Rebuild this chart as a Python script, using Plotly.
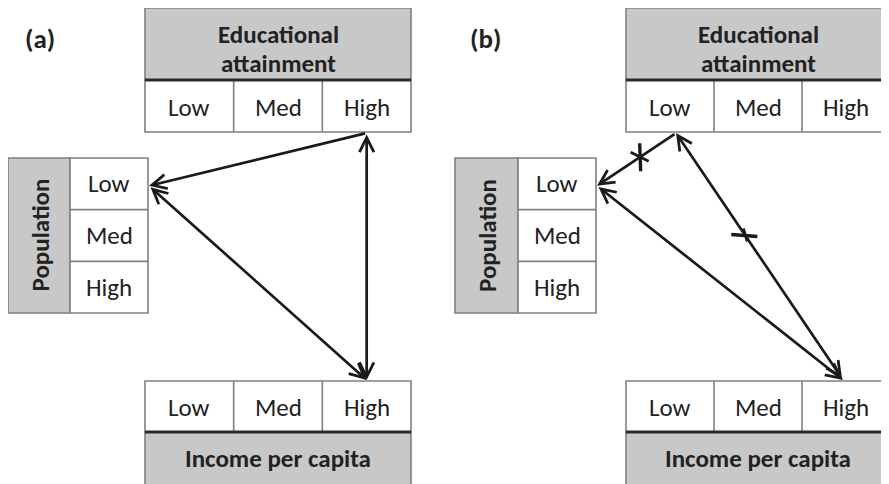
import plotly.graph_objects as go

# ---- data ----
levels = ["Low", "Med", "High"]
panel_labels = ["(a)", "(b)"]
edu_title = ["Educational", "attainment"]
pop_title = "Population"
inc_title = "Income per capita"
# links: (from_box, from_level, to_box, to_level, arrow sides, crossed)
links_a = [("edu", "High", "pop", "Low", "end", False),
           ("edu", "High", "inc", "High", "end+start", False),
           ("pop", "Low", "inc", "High", "end+start", False)]
links_b = [("edu", "Low", "pop", "Low", "end", True),
           ("inc", "High", "edu", "Low", "end+start", True),
           ("pop", "Low", "inc", "High", "end+start", False)]

# ---- style ----
FONT = "Carlito, Calibri, Lato, sans-serif"
GRAY = "#c8c8c8"
BORDER = "#808080"
DARK = "#2b2b2b"
TXT = "#222222"
FS = 25

W, H = 889, 484
OFF = 8  # page body margin
fig = go.Figure()
shapes = []
annots = []

def rect(x0, y0, x1, y1, fill="white", lc=BORDER, lw=1.6):
    shapes.append(dict(type="rect", xref="x", yref="y", x0=x0, y0=y0, x1=x1, y1=y1,
                       fillcolor=fill, line=dict(color=lc, width=lw), layer="below"))

def line(x0, y0, x1, y1, lc=BORDER, lw=1.6):
    shapes.append(dict(type="line", xref="x", yref="y", x0=x0, y0=y0, x1=x1, y1=y1,
                       line=dict(color=lc, width=lw)))

def text(x, y, s, bold=False, size=FS, angle=0):
    annots.append(dict(x=x, y=y, xref="x", yref="y", text=(f"<b>{s}</b>" if bold else s),
                       showarrow=False, textangle=angle,
                       font=dict(family=FONT, size=size, color=TXT),
                       xanchor="center", yanchor="middle"))

def panel(label, lab_xy, top_x0, box_w, pop_x0, pop_gray_w, pop_w, links, cross_specs):
    text(lab_xy[0], lab_xy[1], label, bold=True, size=27)
    # --- education (top) box ---
    ty0, tyh, ty1 = 8, 80, 132
    rect(top_x0, ty0, top_x0 + box_w, tyh, fill=GRAY)
    rect(top_x0, tyh, top_x0 + box_w, ty1)
    cw = box_w / 3
    for i in (1, 2):
        line(top_x0 + i * cw, tyh, top_x0 + i * cw, ty1)
    line(top_x0, tyh, top_x0 + box_w, tyh, lc=DARK, lw=3)
    text(top_x0 + box_w / 2, 34, edu_title[0], bold=True)
    text(top_x0 + box_w / 2, 63, edu_title[1], bold=True)
    for i, lv in enumerate(levels):
        text(top_x0 + (i + 0.5) * cw, (tyh + ty1) / 2 + 1, lv)
    # --- population (left) box ---
    py0, py1 = 158, 313
    rect(pop_x0, py0, pop_x0 + pop_gray_w, py1, fill=GRAY)
    rect(pop_x0 + pop_gray_w, py0, pop_x0 + pop_w, py1)
    ch = (py1 - py0) / 3
    for i in (1, 2):
        line(pop_x0 + pop_gray_w, py0 + i * ch, pop_x0 + pop_w, py0 + i * ch)
    text(pop_x0 + pop_gray_w / 2 + 1, (py0 + py1) / 2, pop_title, bold=True, angle=-90)
    for i, lv in enumerate(levels):
        text(pop_x0 + pop_gray_w + (pop_w - pop_gray_w) / 2, py0 + (i + 0.5) * ch, lv)
    # --- income (bottom) box ---
    by0, byh, by1 = 381, 432, 496
    rect(top_x0, by0, top_x0 + box_w, byh)
    rect(top_x0, byh, top_x0 + box_w, by1, fill=GRAY)
    for i in (1, 2):
        line(top_x0 + i * cw, by0, top_x0 + i * cw, byh)
    line(top_x0, byh, top_x0 + box_w, byh, lc=DARK, lw=3)
    for i, lv in enumerate(levels):
        text(top_x0 + (i + 0.5) * cw, (by0 + byh) / 2 + 1, lv)
    text(top_x0 + box_w / 2, 458, inc_title, bold=True)

    def anchor(box, lv, nudge):
        i = levels.index(lv)
        if box == "edu":
            return (top_x0 + (i + 0.5) * cw + nudge, ty1 + 1)
        if box == "inc":
            return (top_x0 + (i + 0.5) * cw + nudge, by0 - 1)
        return (pop_x0 + pop_w + 1, py0 + (i + 0.5) * ch + 2)

    nud = cross_specs.get("nudge", {})
    for k, (fb, fl, tb, tl, side, crossed) in enumerate(links):
        x0, y0 = anchor(fb, fl, nud.get(fb, 0))
        x1, y1 = anchor(tb, tl, nud.get(tb, 0))
        annots.append(dict(x=x1, y=y1, ax=x0, ay=y0, xref="x", yref="y", axref="x", ayref="y",
                           text="", showarrow=True, arrowhead=5, startarrowhead=5,
                           arrowside=side, arrowsize=1.05, startarrowsize=1.05,
                           arrowwidth=2.7, arrowcolor="#1a1a1a", standoff=0, startstandoff=0))
        if crossed:
            t = cross_specs["t"][k]
            cx, cy = x0 + (x1 - x0) * t, y0 + (y1 - y0) * t
            if abs(x1 - x0) > abs(y1 - y0):
                line(cx, cy - 14, cx + 1, cy + 14, lc="#1a1a1a", lw=3.4)
                line(cx - 9, cy - 5, cx + 9, cy + 4, lc="#1a1a1a", lw=2.8)
            else:
                line(cx - 14, cy - 1, cx + 12, cy + 1, lc="#1a1a1a", lw=3.4)
                line(cx - 2, cy - 7, cx + 2, cy + 6, lc="#1a1a1a", lw=2.8)

panel(panel_labels[0], (40, 38), 145, 266, 8, 62, 140, links_a, {})
panel(panel_labels[1], (485, 38), 626, 264, 455, 63, 141, links_b,
      {"t": {0: 0.46, 1: 0.585}, "nudge": {"edu": 6, "inc": -3}})

fig.update_layout(
    width=W, height=H,
    margin=dict(l=0, r=0, t=0, b=0),
    paper_bgcolor="white", plot_bgcolor="white",
    xaxis=dict(range=[OFF, W + OFF], visible=False, fixedrange=True),
    yaxis=dict(range=[H + OFF, OFF], visible=False, fixedrange=True),
    shapes=shapes, annotations=annots, showlegend=False,
)
fig.write_html("out.html")
